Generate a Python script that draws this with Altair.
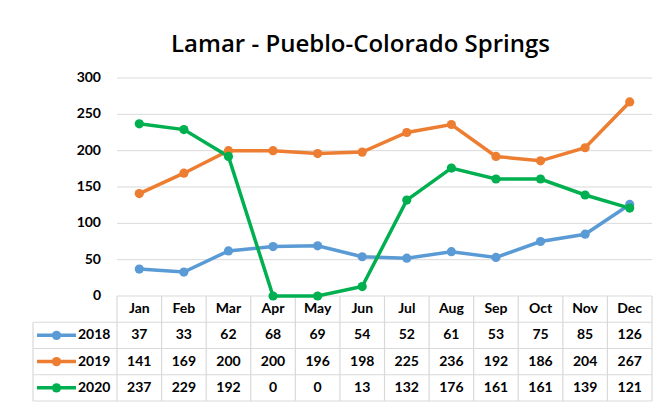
import altair as alt
import pandas as pd

# ---- data ----
months = ["Jan", "Feb", "Mar", "Apr", "May", "Jun", "Jul", "Aug", "Sep", "Oct", "Nov", "Dec"]
series_names = ["2018", "2019", "2020"]
v2018 = [37, 33, 62, 68, 69, 54, 52, 61, 53, 75, 85, 126]
v2019 = [141, 169, 200, 200, 196, 198, 225, 236, 192, 186, 204, 267]
v2020 = [237, 229, 192, 0, 0, 13, 132, 176, 161, 161, 139, 121]
colors = ["#5B9BD5", "#ED7D31", "#00B050"]
y_ticks = [0, 50, 100, 150, 200, 250, 300]
title_text = "Lamar - Pueblo-Colorado Springs"

# ---- layout helpers (scale units) ----
COL_PX = 44.58            # pixel width of one month column
LEG = 84 / COL_PX         # legend column width in month-column units
ROW = 36.125              # table row height in y units
N = len(months)
W, H = 619, 323
FONT = "Lato"
GRID = "#D9D9D9"

values = [v2018, v2019, v2020]

xs = alt.Scale(domain=[-LEG, N], nice=False, zero=False)
ys = alt.Scale(domain=[-4 * ROW, 300], nice=False, zero=False)
cs = alt.Scale(domain=series_names, range=colors)

line_df = pd.DataFrame(
    [{"x": i + 0.5, "y": vals[i], "series": s}
     for s, vals in zip(series_names, values) for i in range(N)]
)

grid_df = pd.DataFrame({"y": y_ticks[1:], "x": [0] * 6, "x2": [N] * 6})

hrules = pd.DataFrame(
    [{"y": 0, "x": 0, "x2": N}] +
    [{"y": -k * ROW, "x": -LEG, "x2": N} for k in range(1, 5)]
)
vrules = pd.DataFrame(
    [{"x": j, "y": 0, "y2": -4 * ROW} for j in range(N + 1)] +
    [{"x": -LEG, "y": -ROW, "y2": -4 * ROW}]
)

ylab_df = pd.DataFrame({"y": y_ticks, "label": [str(t) for t in y_ticks]})

head_df = pd.DataFrame({"x": [i + 0.5 for i in range(N)], "y": [-0.5 * ROW] * N, "label": months})
cell_df = pd.DataFrame(
    [{"x": i + 0.5, "y": -(r + 1.5) * ROW, "label": str(vals[i])}
     for r, vals in enumerate(values) for i in range(N)]
)
leg_df = pd.DataFrame({
    "series": series_names,
    "y": [-(r + 1.5) * ROW for r in range(3)],
    "x1": [4 / COL_PX - LEG] * 3,
    "x2": [43 / COL_PX - LEG] * 3,
    "xd": [23.5 / COL_PX - LEG] * 3,
    "xl": [45 / COL_PX - LEG] * 3,
})

X = lambda f: alt.X(f, type="quantitative", scale=xs, axis=None)
Y = lambda f: alt.Y(f, type="quantitative", scale=ys, axis=None)

grid = alt.Chart(grid_df).mark_rule(color=GRID, strokeWidth=1).encode(
    x=X("x"), x2="x2", y=Y("y"))
hr = alt.Chart(hrules).mark_rule(color=GRID, strokeWidth=1.2).encode(
    x=X("x"), x2="x2", y=Y("y"))
vr = alt.Chart(vrules).mark_rule(color=GRID, strokeWidth=1.2).encode(
    x=X("x"), y=Y("y"), y2="y2")

lines = alt.Chart(line_df).mark_line(strokeWidth=3.5).encode(
    x=X("x"), y=Y("y"), color=alt.Color("series:N", scale=cs, legend=None),
    detail="series:N")
pts = alt.Chart(line_df).mark_circle(size=85, opacity=1).encode(
    x=X("x"), y=Y("y"), color=alt.Color("series:N", scale=cs, legend=None))

txt = dict(font=FONT, fontWeight="bold", fontSize=14, color="#000000", baseline="middle")

ylabs = alt.Chart(ylab_df).transform_calculate(xx=str(-LEG + 68 / COL_PX)).mark_text(
    align="right", **txt).encode(x=X("xx"), y=Y("y"), text="label:N")

head = alt.Chart(head_df).mark_text(align="center", **txt).encode(
    x=X("x"), y=Y("y"), text="label:N")
cells = alt.Chart(cell_df).mark_text(align="center", **txt).encode(
    x=X("x"), y=Y("y"), text="label:N")

leg_line = alt.Chart(leg_df).mark_rule(strokeWidth=3.5).encode(
    x=X("x1"), x2="x2", y=Y("y"), color=alt.Color("series:N", scale=cs, legend=None))
leg_dot = alt.Chart(leg_df).mark_circle(size=85, opacity=1).encode(
    x=X("xd"), y=Y("y"), color=alt.Color("series:N", scale=cs, legend=None))
leg_lab = alt.Chart(leg_df).mark_text(align="left", **txt).encode(
    x=X("xl"), y=Y("y"), text="series:N")

chart = alt.layer(
    grid, hr, vr, lines, pts, ylabs, head, cells, leg_line, leg_dot, leg_lab
).properties(
    width=W, height=H,
    title=alt.TitleParams(title_text, font="Open Sans", fontSize=24, fontWeight=600,
                          color="#000000", anchor="middle", dx=18, offset=14),
    autosize=alt.AutoSizeParams(type="none"),
    padding={"left": 25, "top": 70, "right": 8, "bottom": 2},
).configure_view(stroke=None)

chart.save("out.html", embed_options={"renderer": "svg", "actions": False})
